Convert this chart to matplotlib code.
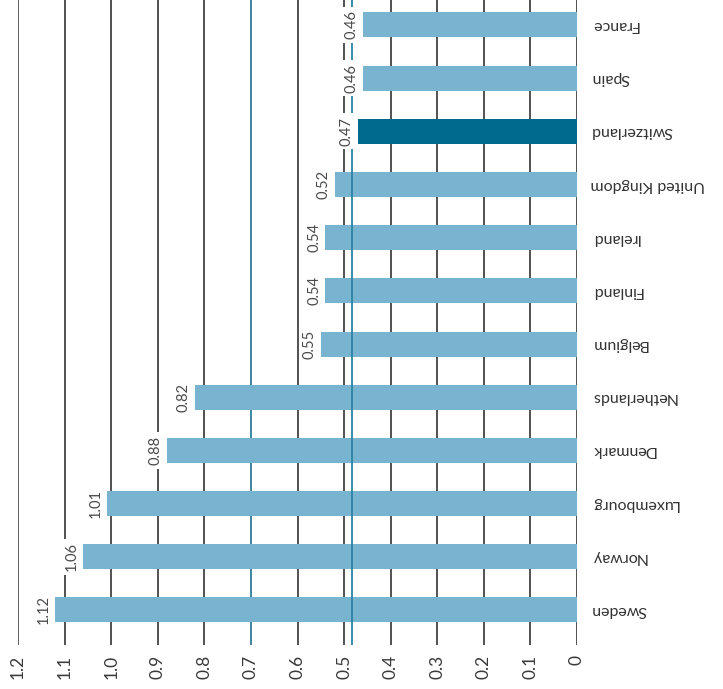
import matplotlib
matplotlib.use("Agg")
import matplotlib.pyplot as plt

countries = ["France", "Spain", "Switzerland", "United Kingdom", "Ireland", "Finland",
             "Belgium", "Netherlands", "Denmark", "Luxembourg", "Norway", "Sweden"]
values = [0.46, 0.46, 0.47, 0.52, 0.54, 0.54, 0.55, 0.82, 0.88, 1.01, 1.06, 1.12]
highlight = "Switzerland"
average = 0.483
ticks = [0, 0.1, 0.2, 0.3, 0.4, 0.5, 0.6, 0.7, 0.8, 0.9, 1.0, 1.1, 1.2]
tick_labels = ["0", "0.1", "0.2", "0.3", "0.4", "0.5", "0.6", "0.7", "0.8", "0.9", "1.0", "1.1", "1.2"]

plt.rcParams['font.family'] = ['Lato', 'DejaVu Sans']

fig = plt.figure(figsize=(7.23, 6.89), dpi=100)
ax = fig.add_axes([18/723, 1 - 645/689, (577 - 18)/723, 645/689])

light = "#78b4d0"
dark = "#006a8e"
ypos = list(range(len(countries)))
colors = [dark if c == highlight else light for c in countries]
ax.barh(ypos, values, height=0.47, color=colors, zorder=2)

for t in ticks:
    if t == 0.7:
        col, lw = "#1f6f90", 1.2
    elif t == 1.2:
        col, lw = "#555555", 1.3
    else:
        col, lw = "#222222", 1.1
    ax.axvline(t, color=col, lw=lw, zorder=1)
ax.axvline(average, color="#2a82a6", lw=1.3, zorder=3)

ax.set_xlim(1.2, 0)
ax.set_ylim(len(countries) - 1 + 0.66, -0.47)
ax.set_xticks(ticks)
ax.set_xticklabels(tick_labels, rotation=90, fontsize=12.5, color="#3a3a3a")
ax.tick_params(axis="x", length=0, pad=7)
ax.set_yticks([])
for s in ax.spines.values():
    s.set_visible(False)

for y, v, c in zip(ypos, values, countries):
    ax.annotate(f"{v:.2f}", xy=(v, y), xytext=(-8, 0), textcoords="offset points",
                rotation=90, ha="center", va="center", fontsize=10.5, color="#4a4a4a",
                bbox=dict(boxstyle="square,pad=0.25", fc="white", ec="none"), zorder=4)
    ax.annotate(c, xy=(0, y), xytext=(10, 0), textcoords="offset points",
                rotation=180, ha="left", va="center", fontsize=11.5, color="#333333",
                annotation_clip=False)

fig.savefig("out.png", dpi=100)
